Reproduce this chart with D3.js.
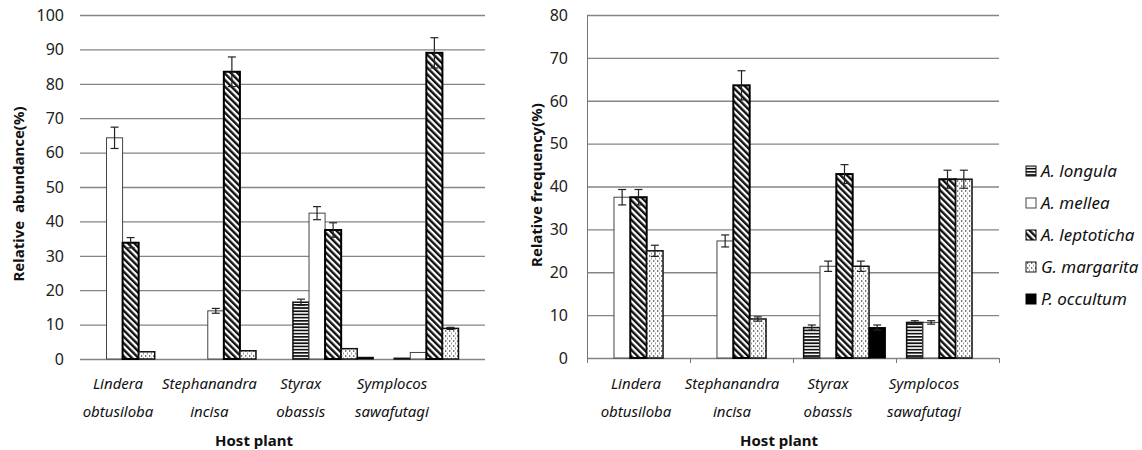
<!DOCTYPE html>
<html>
<head>
<meta charset="utf-8">
<style>
  body { margin: 0; background: #fff; }
  text { font-family: "Noto Sans", "Open Sans", sans-serif; }
</style>
</head>
<body>
<svg width="1142" height="450"></svg>
<script src="https://cdn.jsdelivr.net/npm/d3@7/dist/d3.min.js"></script>
<script>

var plants = [["Lindera", "obtusiloba"], ["Stephanandra", "incisa"], ["Styrax", "obassis"], ["Symplocos", "sawafutagi"]];
var plantKeys = plants.map(function(p) { return p.join(" "); });
var species = ["A. longula", "A. mellea", "A. leptoticha", "G. margarita", "P. occultum"];

// relative abundance (%) per species, in plant order
var abundance = [
  [0, 0, 16.5, 0.2],
  [64.3, 14.0, 42.4, 1.9],
  [33.8, 83.5, 37.5, 89.0],
  [2.1, 2.4, 3.0, 8.9],
  [0, 0, 0.5, 0]
];
var abundanceErr = [
  [0, 0, 0.9, 0],
  [3.1, 0.7, 1.9, 0],
  [1.5, 4.3, 2.1, 4.4],
  [0, 0, 0, 0.3],
  [0, 0, 0, 0]
];

// relative frequency (%)
var frequency = [
  [0, 0, 7.1, 8.3],
  [37.5, 27.3, 21.4, 8.3],
  [37.5, 63.6, 42.9, 41.7],
  [25.0, 9.1, 21.4, 41.7],
  [0, 0, 7.1, 0]
];
var frequencyErr = [
  [0, 0, 0.6, 0.4],
  [1.8, 1.4, 1.2, 0.4],
  [1.8, 3.4, 2.2, 2.1],
  [1.3, 0.5, 1.2, 2.1],
  [0, 0, 0.6, 0]
];

var svg = d3.select("svg");
var defs = svg.append("defs");

// fills
var hs = defs.append("pattern").attr("id", "hstripe").attr("patternUnits", "userSpaceOnUse")
    .attr("width", 6).attr("height", 3.2);
hs.append("rect").attr("width", 6).attr("height", 3.2).attr("fill", "#fff");
hs.append("rect").attr("width", 6).attr("height", 1.7).attr("fill", "#111");

var dg = defs.append("pattern").attr("id", "diag").attr("patternUnits", "userSpaceOnUse")
    .attr("width", 4.6).attr("height", 5).attr("patternTransform", "rotate(-45)");
dg.append("rect").attr("width", 4.6).attr("height", 5).attr("fill", "#fff");
dg.append("rect").attr("width", 2.4).attr("height", 5).attr("fill", "#111");

var dt = defs.append("pattern").attr("id", "dots").attr("patternUnits", "userSpaceOnUse")
    .attr("width", 4).attr("height", 5);
dt.append("rect").attr("width", 4).attr("height", 5).attr("fill", "#fff");
dt.append("rect").attr("x", 1).attr("y", 0).attr("width", 1.3).attr("height", 2).attr("fill", "#777");
dt.append("rect").attr("x", 3).attr("y", 2.5).attr("width", 1).attr("height", 2).attr("fill", "#999");

var fills = ["url(#hstripe)", "#fff", "url(#diag)", "url(#dots)", "#000"];
var strokes = ["#111", "#444", "#000", "#111", "#000"];
var strokeW = [1.5, 1, 2, 1.5, 1];

function drawChart(opt) {
  var g = svg.append("g");
  var x0 = d3.scaleBand().domain(plantKeys).range([opt.left, opt.right]);
  var x1 = d3.scaleBand().domain(species).range([0, x0.bandwidth()]).paddingInner(0).paddingOuter(0.65);
  var y = d3.scaleLinear().domain([0, opt.max]).range([opt.bottom, opt.top]);
  var xl = d3.scalePoint().domain(plantKeys).range(opt.labelRange);

  // grid
  g.append("g").selectAll("line").data(y.ticks(opt.max / 10)).enter().append("line")
      .attr("x1", opt.left).attr("x2", opt.right)
      .attr("y1", function(d) { return y(d) + 0.5; }).attr("y2", function(d) { return y(d) + 0.5; })
      .attr("stroke", "#858585").attr("stroke-width", 1.3);

  // y tick labels
  g.append("g").selectAll("text").data(y.ticks(opt.max / 10)).enter().append("text")
      .attr("x", opt.tickX).attr("y", function(d) { return y(d); }).attr("dy", "0.36em")
      .attr("text-anchor", "end").attr("font-size", 16).attr("fill", "#222")
      .text(function(d) { return d; });

  if (opt.axisLine) {
    g.append("line").attr("x1", opt.left + 0.5).attr("x2", opt.left + 0.5)
        .attr("y1", opt.top).attr("y2", opt.bottom + 5).attr("stroke", "#777");
    var b = plantKeys.map(function(k) { return x0(k); }).concat([opt.right]);
    g.append("g").selectAll("line").data(b).enter().append("line")
        .attr("x1", function(d) { return d + 0.5; }).attr("x2", function(d) { return d + 0.5; })
        .attr("y1", opt.bottom).attr("y2", opt.bottom + 5).attr("stroke", "#777");
  }

  // bars
  var bars = [];
  species.forEach(function(s, i) {
    plantKeys.forEach(function(p, j) {
      if (opt.values[i][j] > 0) bars.push({s: s, i: i, p: p, v: opt.values[i][j], e: opt.errors[i][j]});
    });
  });

  g.append("g").selectAll("rect").data(bars).enter().append("rect")
      .attr("x", function(d) { return x0(d.p) + x1(d.s); })
      .attr("y", function(d) { return y(d.v); })
      .attr("width", x1.bandwidth())
      .attr("height", function(d) { return y(0) - y(d.v); })
      .attr("fill", function(d) { return fills[d.i]; })
      .attr("stroke", function(d) { return strokes[d.i]; })
      .attr("stroke-width", function(d) { return strokeW[d.i]; });

  // error bars
  var eb = g.append("g").selectAll("g").data(bars.filter(function(d) { return d.e > 0; })).enter().append("g")
      .attr("stroke", "#222").attr("stroke-width", 1.2);
  function cx(d) { return x0(d.p) + x1(d.s) + x1.bandwidth() / 2; }
  eb.append("line").attr("x1", cx).attr("x2", cx)
      .attr("y1", function(d) { return y(d.v + d.e); }).attr("y2", function(d) { return y(d.v - d.e); });
  eb.append("line").attr("x1", function(d) { return cx(d) - 4; }).attr("x2", function(d) { return cx(d) + 4; })
      .attr("y1", function(d) { return y(d.v + d.e); }).attr("y2", function(d) { return y(d.v + d.e); });
  eb.append("line").attr("x1", function(d) { return cx(d) - 4; }).attr("x2", function(d) { return cx(d) + 4; })
      .attr("y1", function(d) { return y(d.v - d.e); }).attr("y2", function(d) { return y(d.v - d.e); });

  // category labels
  var lab = g.append("g").selectAll("text").data(plants).enter().append("text")
      .attr("text-anchor", "middle").attr("font-size", 15).attr("font-style", "italic").attr("fill", "#111");
  lab.append("tspan").attr("x", function(d) { return xl(d.join(" ")); }).attr("y", 389).text(function(d) { return d[0]; });
  lab.append("tspan").attr("x", function(d) { return xl(d.join(" ")); }).attr("y", 417).text(function(d) { return d[1]; });

  g.append("text").attr("x", opt.xTitleX).attr("y", 446).attr("text-anchor", "middle")
      .attr("font-size", 15).attr("font-weight", "bold").attr("fill", "#111").text("Host plant");

  g.append("text").attr("transform", "translate(" + opt.yTitleX + "," + opt.yTitleY + ") rotate(-90)")
      .attr("text-anchor", "middle").attr("dy", "0.35em")
      .attr("font-size", 15).attr("font-weight", "bold").attr("fill", "#111").attr("xml:space", "preserve")
      .text(opt.yTitle);
}

drawChart({
  left: 80, right: 485, top: 15, bottom: 359, max: 100,
  values: abundance, errors: abundanceErr,
  tickX: 64, axisLine: false, labelRange: [118, 392],
  xTitleX: 254, yTitleX: 19, yTitleY: 194, yTitle: "Relative  abundance(%)"
});

drawChart({
  left: 587, right: 999, top: 15, bottom: 358, max: 80,
  values: frequency, errors: frequencyErr,
  tickX: 568, axisLine: true, labelRange: [636, 924],
  xTitleX: 779, yTitleX: 537, yTitleY: 185, yTitle: "Relative frequency(%)"
});

// legend
var legend = svg.append("g").selectAll("g").data(species).enter().append("g")
    .attr("transform", function(d, i) { return "translate(1026," + (171 + i * 32) + ")"; });
legend.append("rect").attr("x", 0).attr("y", -5).attr("width", 10).attr("height", 10)
    .attr("fill", function(d, i) { return fills[i]; })
    .attr("stroke", function(d, i) { return strokes[i]; })
    .attr("stroke-width", 1);
legend.append("text").attr("x", 15).attr("dy", "0.35em").attr("font-size", 17).attr("font-style", "italic")
    .attr("fill", "#111").text(function(d) { return d; });

</script>
</body>
</html>
